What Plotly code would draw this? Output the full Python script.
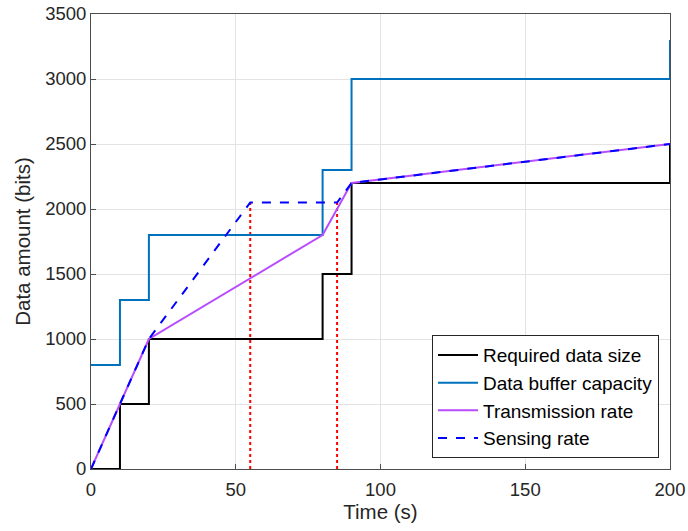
import plotly.graph_objects as go

# Data
req_t = [0, 10, 10, 20, 20, 80, 80, 90, 90, 200, 200]
req_v = [0, 0, 500, 500, 1000, 1000, 1500, 1500, 2200, 2200, 2500]
buf_t = [0, 10, 10, 20, 20, 80, 80, 90, 90, 200, 200]
buf_v = [800, 800, 1300, 1300, 1800, 1800, 2300, 2300, 3000, 3000, 3300]
tx_t = [0, 10, 20, 80, 90, 200]
tx_v = [0, 500, 1000, 1800, 2200, 2500]
sen_t = [0, 10, 20, 55, 85, 90, 200]
sen_v = [0, 500, 1000, 2050, 2050, 2200, 2500]
mark1_t = [55, 55]
mark1_v = [0, 2050]
mark2_t = [85, 85]
mark2_v = [0, 2050]

FONT = "Liberation Sans, Arial"

fig = go.Figure()
fig.add_trace(go.Scatter(x=mark1_t, y=mark1_v, mode="lines", showlegend=False,
                         line=dict(color="red", width=2, dash="dot")))
fig.add_trace(go.Scatter(x=mark2_t, y=mark2_v, mode="lines", showlegend=False,
                         line=dict(color="red", width=2, dash="dot")))
fig.add_trace(go.Scatter(x=req_t, y=req_v, mode="lines", name="Required data size",
                         line=dict(color="black", width=2)))
fig.add_trace(go.Scatter(x=buf_t, y=buf_v, mode="lines", name="Data buffer capacity",
                         line=dict(color="#0072BD", width=2)))
fig.add_trace(go.Scatter(x=tx_t, y=tx_v, mode="lines", name="Transmission rate",
                         line=dict(color="#B84DFF", width=2)))
fig.add_trace(go.Scatter(x=sen_t, y=sen_v, mode="lines", name="Sensing rate",
                         line=dict(color="blue", width=2, dash="dash")))

axis_common = dict(showgrid=True, gridcolor="#E3E3E3", gridwidth=1,
                   showline=True, linecolor="#4D4D4D", linewidth=1, mirror=True,
                   ticks="inside", ticklen=5, tickcolor="#4D4D4D",
                   zeroline=False, automargin=False,
                   tickfont=dict(family=FONT, size=18.5, color="#262626"),
                   title_font=dict(family=FONT, size=20.5, color="#262626"))

fig.update_layout(
    width=688, height=531,
    margin=dict(l=91, r=18, t=14, b=62),
    plot_bgcolor="white", paper_bgcolor="white",
    xaxis=dict(range=[0, 200], tickvals=[0, 50, 100, 150, 200], ticklabelstandoff=4,
               title=dict(text="Time (s)", standoff=5), **axis_common),
    yaxis=dict(range=[0, 3500], tickvals=list(range(0, 3501, 500)),
               title=dict(text="Data amount (bits)", standoff=8), **axis_common),
    legend=dict(x=0.981, y=0.024, xanchor="right", yanchor="bottom",
                bgcolor="white", bordercolor="#262626", borderwidth=1,
                font=dict(family=FONT, size=19, color="black"),
                tracegroupgap=0, itemwidth=40),
    font=dict(family=FONT),
)

fig.write_html("out.html")
